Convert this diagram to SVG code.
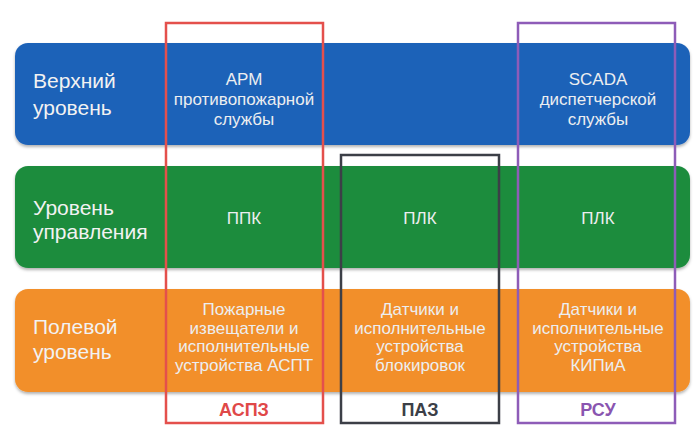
<svg xmlns="http://www.w3.org/2000/svg" width="700" height="440" viewBox="0 0 700 440">
<defs>
<filter id="sh" x="-5%" y="-10%" width="110%" height="130%">
<feDropShadow dx="0" dy="2" stdDeviation="1.5" flood-color="#000" flood-opacity="0.3"/>
</filter>
</defs>
<style>
text{font-family:"Liberation Sans","Noto Sans",Arial,sans-serif;}
.lv{font-size:21px;fill:#f2f2f2;}
.c{font-size:17px;fill:#eceef0;text-anchor:middle;}
.lab{font-size:18px;font-weight:bold;text-anchor:middle;}
.fr{fill:none;stroke-width:2.5;}
</style>
<rect width="700" height="440" fill="#ffffff"/>
<g id="row-top">
<rect x="15" y="43" width="675" height="102" rx="13" fill="#1f62b8" filter="url(#sh)"/>
<text class="lv" x="33" y="88">Верхний</text>
<text class="lv" x="33" y="115">уровень</text>
</g>
<g id="row-control">
<rect x="15" y="166" width="675" height="102" rx="13" fill="#1b8c3e" filter="url(#sh)"/>
<text class="lv" x="33" y="215">Уровень</text>
<text class="lv" x="33" y="239">управления</text>
</g>
<g id="row-field">
<rect x="15" y="289" width="675" height="103" rx="13" fill="#f28f2a" filter="url(#sh)"/>
<text class="lv" x="33" y="334">Полевой</text>
<text class="lv" x="33" y="359">уровень</text>
</g>
<g id="aspz">
<text class="c" x="244" y="85">АРМ</text>
<text class="c" x="244" y="105">противопожарной</text>
<text class="c" x="244" y="125">службы</text>
<text class="c" x="244" y="224">ППК</text>
<text class="c" x="244" y="315">Пожарные</text>
<text class="c" x="244" y="334">извещатели и</text>
<text class="c" x="244" y="352">исполнительные</text>
<text class="c" x="244" y="371">устройства АСПТ</text>
<rect class="fr" x="166" y="23" width="157" height="400" stroke="#e4504c"/>
<text class="lab" x="244" y="416" fill="#e04848">АСПЗ</text>
</g>
<g id="paz">
<text class="c" x="420" y="224">ПЛК</text>
<text class="c" x="420" y="315">Датчики и</text>
<text class="c" x="420" y="334">исполнительные</text>
<text class="c" x="420" y="352">устройства</text>
<text class="c" x="420" y="371">блокировок</text>
<rect class="fr" x="341" y="155" width="158" height="268" stroke="#3c3f47"/>
<text class="lab" x="420" y="416" fill="#3c3f47">ПАЗ</text>
</g>
<g id="rsu">
<text class="c" x="598" y="85">SCADA</text>
<text class="c" x="598" y="105">диспетчерской</text>
<text class="c" x="598" y="125">службы</text>
<text class="c" x="598" y="224">ПЛК</text>
<text class="c" x="598" y="315">Датчики и</text>
<text class="c" x="598" y="334">исполнительные</text>
<text class="c" x="598" y="352">устройства</text>
<text class="c" x="598" y="371">КИПиА</text>
<rect class="fr" x="518" y="23" width="157" height="400" stroke="#8e5cb8"/>
<text class="lab" x="598" y="416" fill="#8a55b0">РСУ</text>
</g>
<g id="connectors"></g>
</svg>
